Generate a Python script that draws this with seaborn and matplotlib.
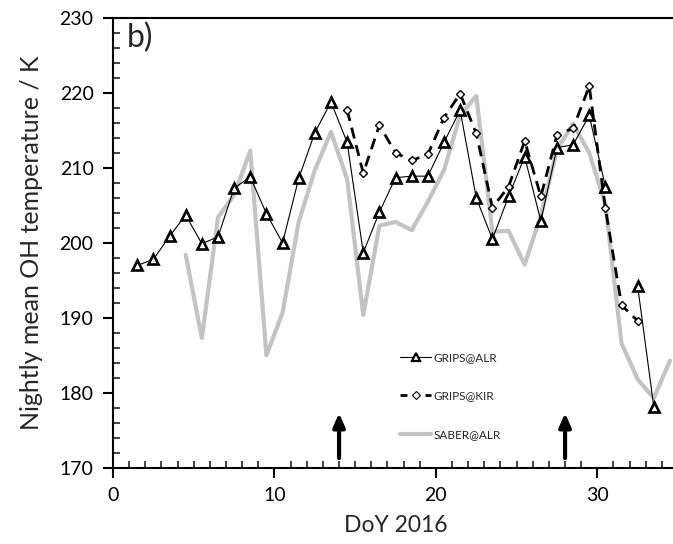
import numpy as np
import pandas as pd
import matplotlib
matplotlib.use("Agg")
import matplotlib.pyplot as plt
import seaborn as sns
from matplotlib.lines import Line2D
from matplotlib.ticker import MultipleLocator

sns.set_style("white")
plt.rcParams['font.family'] = ['Lato', 'DejaVu Sans']

# ---- data ----
alr_doy = [1.5, 2.5, 3.5, 4.5, 5.5, 6.5, 7.5, 8.5, 9.5, 10.5, 11.5, 12.5, 13.5, 14.5,
           15.5, 16.5, 17.5, 18.5, 19.5, 20.5, 21.5, 22.5, 23.5, 24.5, 25.5, 26.5,
           27.5, 28.5, 29.5, 30.5]
alr_temp = [197.0, 197.8, 200.9, 203.7, 199.9, 200.8, 207.3, 208.8, 203.9, 200.0, 208.6,
            214.7, 218.8, 213.4, 198.7, 204.1, 208.7, 208.9, 208.9, 213.4, 217.7, 206.0,
            200.5, 206.2, 211.5, 202.9, 212.7, 213.1, 217.0, 207.5]
alr_doy_end = [32.5, 33.5]
alr_temp_end = [194.2, 178.1]

kir_doy = [14.5, 15.5, 16.5, 17.5, 18.5, 19.5, 20.5, 21.5, 22.5, 23.5, 24.5, 25.5,
           26.5, 27.5, 28.5, 29.5, 30.5, 31.5, 32.5]
kir_temp = [217.7, 209.3, 215.7, 212.0, 211.0, 211.8, 216.7, 219.9, 214.6, 204.7, 207.5,
            213.6, 206.2, 214.4, 215.3, 220.9, 204.6, 191.7, 189.6]

saber_doy = [4.5, 5.5, 6.5, 7.5, 8.5, 9.5, 10.5, 11.5, 12.5, 13.5, 14.5, 15.5, 16.5,
             17.5, 18.5, 19.5, 20.5, 21.5, 22.5, 23.5, 24.5, 25.5, 26.5, 27.5, 28.5,
             29.5, 30.5, 31.5, 32.5, 33.5, 34.5]
saber_temp = [198.4, 187.3, 203.4, 206.4, 212.3, 185.0, 190.7, 202.8, 209.7, 214.8, 208.5,
              190.4, 202.3, 202.8, 201.7, 205.5, 209.7, 217.0, 219.6, 201.5, 201.6, 197.1,
              203.7, 212.4, 215.9, 212.0, 205.1, 186.6, 181.8, 179.3, 184.3]

arrow_doy = [14, 28]
labels = ["GRIPS@ALR", "GRIPS@KIR", "SABER@ALR"]

# ---- figure ----
fig = plt.figure(figsize=(6.73, 5.44), dpi=100)
ax = fig.add_axes([0.168, 0.14, 0.8395, 0.827])

gray = "#c3c3c3"
sns.lineplot(x=saber_doy, y=saber_temp, ax=ax, color=gray, linewidth=3, zorder=1,
             sort=False)
sns.lineplot(x=kir_doy, y=kir_temp, ax=ax, color="black", linewidth=2,
             linestyle=(0, (4, 2.5)), marker="D", markersize=4.5,
             markerfacecolor="white", markeredgecolor="black", markeredgewidth=1.0,
             zorder=2, sort=False)
for xs, ys in [(alr_doy, alr_temp), (alr_doy_end, alr_temp_end)]:
    sns.lineplot(x=xs, y=ys, ax=ax, color="black", linewidth=0.8, marker="^",
                 markersize=6.5, markerfacecolor="white", markeredgecolor="black",
                 markeredgewidth=1.9, zorder=3, sort=False)

for xa in arrow_doy:
    ax.annotate("", xy=(xa, 177.3), xytext=(xa, 171.3),
                arrowprops=dict(arrowstyle="-|>,head_width=0.35,head_length=0.8",
                                color="black", lw=3, shrinkA=0, shrinkB=0))

ax.text(0.85, 227.4, "b)", fontsize=23, ha="left", va="center")

ax.set_xlim(0, 35)
ax.set_ylim(170, 230)
ax.xaxis.set_major_locator(MultipleLocator(10))
ax.xaxis.set_minor_locator(MultipleLocator(1))
ax.yaxis.set_major_locator(MultipleLocator(10))
ax.yaxis.set_minor_locator(MultipleLocator(2))
ax.tick_params(axis="both", which="major", direction="out", length=7, width=1.5,
               labelsize=14, colors="black", bottom=True, left=True, pad=7)
ax.tick_params(axis="both", which="minor", direction="in", length=5, width=1.2,
               bottom=True, left=True)
for s in ["left", "bottom", "top"]:
    ax.spines[s].set_visible(True)
    ax.spines[s].set_color("black")
    ax.spines[s].set_linewidth(1.5)
ax.spines["right"].set_visible(False)

ax.set_xlabel("DoY 2016", fontsize=16.5, labelpad=8)
ax.set_ylabel("Nightly mean OH temperature / K", fontsize=18, labelpad=12)

handles = [
    Line2D([], [], color="black", linewidth=0.8, marker="^", markersize=6,
           markerfacecolor="white", markeredgecolor="black", markeredgewidth=1.6),
    Line2D([], [], color="black", linewidth=2, linestyle=(0, (2.5, 2)), marker="D",
           markersize=4, markerfacecolor="white", markeredgecolor="black",
           markeredgewidth=0.8),
    Line2D([], [], color=gray, linewidth=3),
]
ax.legend(handles, labels, loc="upper left", bbox_to_anchor=(17.8, 185.4),
          bbox_transform=ax.transData, frameon=False, fontsize=8.5, labelspacing=2.3,
          handlelength=2.6, handletextpad=0.2, borderaxespad=0, borderpad=0)

fig.savefig("out.png", dpi=100)
